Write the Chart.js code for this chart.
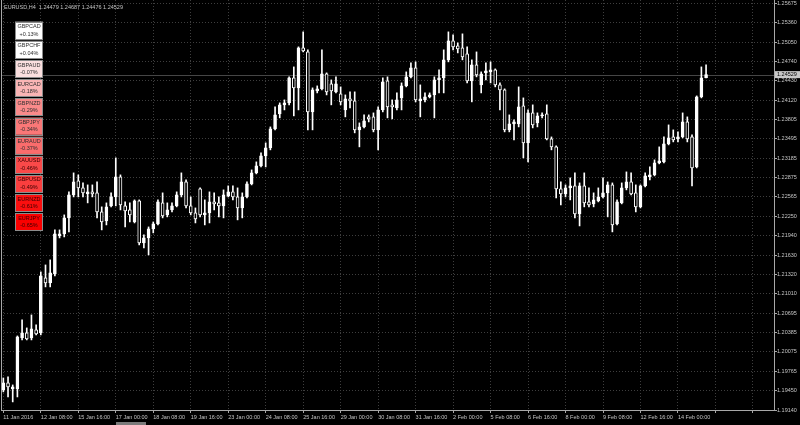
<!DOCTYPE html>
<html>
<head>
<meta charset="utf-8">
<script src="https://cdn.jsdelivr.net/npm/chart.js@4.4.1/dist/chart.umd.min.js"></script>
<style>
  html, body { margin: 0; padding: 0; background: #000; }
  #wrap { position: relative; width: 800px; height: 425px; }
</style>
</head>
<body>
<div id="wrap"><canvas id="chart" width="800" height="425"></canvas></div>
<script>
// EURUSD H4 candles
const opens = [
  1.19463, 1.19575, 1.19479, 1.19479, 1.20298, 1.20379, 1.20298, 1.20427, 1.20379, 1.21263,
  1.21182, 1.21327, 1.21938, 1.21970, 1.22227, 1.22596, 1.22821, 1.22709, 1.22612, 1.22645,
  1.22629, 1.22323, 1.22179, 1.22420, 1.22564, 1.22886, 1.22420, 1.22355, 1.22162, 1.22500,
  1.21825, 1.21905, 1.22050, 1.22130, 1.22468, 1.22275, 1.22355, 1.22420, 1.22596, 1.22805,
  1.22420, 1.22307, 1.22693, 1.22275, 1.22307, 1.22484, 1.22468, 1.22420, 1.22580, 1.22645,
  1.22564, 1.22387, 1.22564, 1.22773, 1.22950, 1.23062, 1.23223, 1.23352, 1.23657, 1.23898,
  1.24043, 1.24075, 1.24477, 1.24316, 1.24959, 1.24894, 1.23930, 1.24268, 1.24300, 1.24541,
  1.24380, 1.24252, 1.24219, 1.23962, 1.24139, 1.24107, 1.23641, 1.23689, 1.23850, 1.23850,
  1.23641, 1.23962, 1.24428, 1.24043, 1.23994, 1.24155, 1.24348, 1.24493, 1.24637, 1.24107,
  1.24123, 1.24171, 1.24203, 1.24444, 1.24477, 1.24766, 1.25071, 1.24991, 1.24959, 1.24862,
  1.24428, 1.24685, 1.24364, 1.24557, 1.24573, 1.24605, 1.24364, 1.24284, 1.23641, 1.23737,
  1.23737, 1.24027, 1.23432, 1.23914, 1.23753, 1.23866, 1.23898, 1.23496, 1.23368, 1.22693,
  1.22612, 1.22709, 1.22741, 1.22291, 1.22741, 1.22484, 1.22452, 1.22500, 1.22564, 1.22629,
  1.22757, 1.22130, 1.22468, 1.22709, 1.22805, 1.22629, 1.22404, 1.22741, 1.22886, 1.22918,
  1.23111, 1.23127, 1.23416, 1.23528, 1.23496, 1.23528, 1.23769, 1.23528, 1.23046, 1.24171,
  1.24479
];
const highs = [
  1.19655, 1.19672, 1.19543, 1.20330, 1.20588, 1.20459, 1.20668, 1.20507, 1.21359, 1.21471,
  1.21552, 1.22034, 1.22034, 1.22275, 1.22645, 1.22950, 1.22918, 1.22789, 1.22757, 1.22757,
  1.22805, 1.22404, 1.22468, 1.22629, 1.23191, 1.22918, 1.22484, 1.22468, 1.22516, 1.22516,
  1.21954, 1.22082, 1.22162, 1.22516, 1.22629, 1.22468, 1.22468, 1.22645, 1.22950, 1.22837,
  1.22564, 1.22387, 1.22709, 1.22516, 1.22645, 1.22629, 1.22564, 1.22677, 1.22741, 1.22741,
  1.22709, 1.22629, 1.22805, 1.22998, 1.23127, 1.23271, 1.23432, 1.23689, 1.24011, 1.24075,
  1.24123, 1.24493, 1.24653, 1.24975, 1.25216, 1.24927, 1.24316, 1.24348, 1.24927, 1.24557,
  1.24444, 1.24493, 1.24332, 1.24203, 1.24252, 1.24252, 1.23753, 1.23882, 1.23882, 1.23914,
  1.24011, 1.24477, 1.24493, 1.24123, 1.24235, 1.24396, 1.24573, 1.24718, 1.24734, 1.24364,
  1.24235, 1.24235, 1.24493, 1.24605, 1.24927, 1.25216, 1.25168, 1.25039, 1.25184, 1.24975,
  1.24766, 1.24894, 1.24573, 1.24718, 1.24734, 1.24621, 1.24396, 1.24300, 1.23882, 1.23802,
  1.24332, 1.24155, 1.23962, 1.24043, 1.23914, 1.23914, 1.24043, 1.23528, 1.23384, 1.22805,
  1.22757, 1.22870, 1.22950, 1.22789, 1.22950, 1.22709, 1.22629, 1.22709, 1.22870, 1.22805,
  1.22789, 1.22516, 1.22789, 1.22966, 1.22950, 1.22757, 1.22757, 1.22950, 1.23046, 1.23159,
  1.23368, 1.23528, 1.23721, 1.23641, 1.23609, 1.23914, 1.23850, 1.23561, 1.24187, 1.24653,
  1.24687
];
const lows = [
  1.19431, 1.19350, 1.19270, 1.19350, 1.20266, 1.20266, 1.20266, 1.20347, 1.20347, 1.21118,
  1.21118, 1.21295, 1.21905, 1.21921, 1.22002, 1.22564, 1.22564, 1.22564, 1.22468, 1.22564,
  1.22227, 1.22034, 1.22114, 1.22404, 1.22420, 1.22355, 1.22082, 1.22162, 1.22146, 1.21793,
  1.21745, 1.21632, 1.21986, 1.22114, 1.22227, 1.22243, 1.22323, 1.22404, 1.22564, 1.22387,
  1.22275, 1.22146, 1.22243, 1.22114, 1.22146, 1.22355, 1.22243, 1.22227, 1.22564, 1.22516,
  1.22195, 1.22227, 1.22548, 1.22757, 1.22934, 1.23046, 1.23046, 1.23320, 1.23641, 1.23834,
  1.23962, 1.24043, 1.23866, 1.23962, 1.24894, 1.23641, 1.23641, 1.24235, 1.24284, 1.24203,
  1.24043, 1.24235, 1.24043, 1.23850, 1.23994, 1.23593, 1.23368, 1.23673, 1.23769, 1.23609,
  1.23320, 1.23930, 1.23834, 1.23818, 1.23962, 1.23962, 1.24332, 1.24477, 1.24091, 1.23850,
  1.24091, 1.24155, 1.23834, 1.24235, 1.24235, 1.24734, 1.24927, 1.24878, 1.24766, 1.24396,
  1.24091, 1.24493, 1.24235, 1.24444, 1.24396, 1.24332, 1.23962, 1.23609, 1.23609, 1.23480,
  1.23689, 1.23191, 1.23127, 1.23673, 1.23689, 1.23834, 1.23480, 1.23320, 1.22548, 1.22436,
  1.22564, 1.22516, 1.22227, 1.22098, 1.22404, 1.22404, 1.22404, 1.22484, 1.22548, 1.22243,
  1.22002, 1.22114, 1.22452, 1.22677, 1.22596, 1.22323, 1.22387, 1.22725, 1.22837, 1.22902,
  1.23095, 1.23111, 1.23400, 1.23448, 1.23448, 1.23512, 1.23448, 1.22741, 1.23030, 1.24155,
  1.24476
];
const closes = [
  1.19575, 1.19511, 1.19511, 1.20314, 1.20379, 1.20282, 1.20443, 1.20363, 1.21295, 1.21182,
  1.21343, 1.21970, 1.21970, 1.22227, 1.22596, 1.22805, 1.22709, 1.22629, 1.22645, 1.22612,
  1.22323, 1.22162, 1.22404, 1.22564, 1.22886, 1.22436, 1.22339, 1.22275, 1.22500, 1.21825,
  1.21905, 1.22050, 1.22130, 1.22484, 1.22259, 1.22355, 1.22420, 1.22596, 1.22805, 1.22420,
  1.22307, 1.22211, 1.22275, 1.22307, 1.22484, 1.22452, 1.22420, 1.22596, 1.22645, 1.22564,
  1.22387, 1.22564, 1.22773, 1.22950, 1.23062, 1.23223, 1.23352, 1.23657, 1.23882, 1.24043,
  1.24075, 1.24477, 1.24316, 1.24959, 1.24910, 1.23930, 1.24284, 1.24300, 1.24541, 1.24252,
  1.24268, 1.24380, 1.24091, 1.24139, 1.24107, 1.23641, 1.23689, 1.23786, 1.23818, 1.23641,
  1.23962, 1.24412, 1.24011, 1.24011, 1.24123, 1.24348, 1.24493, 1.24637, 1.24123, 1.24139,
  1.24171, 1.24203, 1.24444, 1.24477, 1.24766, 1.25071, 1.24975, 1.24943, 1.24814, 1.24428,
  1.24685, 1.24525, 1.24541, 1.24589, 1.24605, 1.24364, 1.24284, 1.23641, 1.23737, 1.23769,
  1.24011, 1.23432, 1.23914, 1.23721, 1.23866, 1.23882, 1.23496, 1.23368, 1.22693, 1.22612,
  1.22709, 1.22741, 1.22291, 1.22741, 1.22468, 1.22436, 1.22516, 1.22564, 1.22629, 1.22757,
  1.22114, 1.22484, 1.22709, 1.22805, 1.22612, 1.22404, 1.22741, 1.22902, 1.22918, 1.23111,
  1.23143, 1.23416, 1.23512, 1.23480, 1.23528, 1.23769, 1.23496, 1.23030, 1.24171, 1.24477,
  1.24529
];

// time axis: one label every 8 bars
const dateLabels = [
  '11 Jan 2016', '12 Jan 08:00', '15 Jan 16:00', '17 Jan 00:00', '18 Jan 08:00',
  '19 Jan 16:00', '23 Jan 00:00', '24 Jan 08:00', '25 Jan 16:00', '29 Jan 00:00',
  '30 Jan 08:00', '31 Jan 16:00', '2 Feb 00:00', '5 Feb 08:00', '6 Feb 16:00',
  '8 Feb 00:00', '9 Feb 08:00', '12 Feb 16:00', '14 Feb 00:00'
];
const priceTicks = [
  1.25675, 1.25360, 1.25050, 1.24740, 1.24430, 1.24120, 1.23805, 1.23495, 1.23185, 1.22875,
  1.22565, 1.22250, 1.21940, 1.21630, 1.21320, 1.21010, 1.20695, 1.20385, 1.20075, 1.19765,
  1.19450, 1.19140
];

// currency strength panel
const symbols = ['GBPCAD', 'GBPCHF', 'GBPAUD', 'EURCAD', 'GBPNZD', 'GBPJPY', 'EURAUD', 'XAUUSD', 'GBPUSD', 'EURNZD', 'EURJPY'];
const changes = [0.13, 0.04, -0.07, -0.18, -0.29, -0.34, -0.37, -0.46, -0.49, -0.61, -0.65];

const title = 'EURUSD,H4  1.24479 1.24687 1.24476 1.24529';
const bid = 1.24529;
const slotCount = 165;

const FONT = '"Liberation Sans", Arial, sans-serif';
const gridColor = '#3e3e3e';
const axisColor = '#a8a8a8';
const textColor = '#c4c4c4';

Chart.defaults.font.family = FONT;
Chart.defaults.font.size = 5.5;
Chart.defaults.color = textColor;

const slots = Array.from({ length: slotCount }, (_, i) => i);

function boxColor(v) {
  if (v >= 0) return '#ffffff';
  const t = Math.min(1, -v / 0.65);
  const g = Math.round(250 * (1 - t));
  return 'rgb(250,' + g + ',' + g + ')';
}

const overlay = {
  id: 'overlay',
  beforeDraw(chart) {
    const ctx = chart.ctx;
    ctx.save();
    ctx.fillStyle = '#000';
    ctx.fillRect(0, 0, chart.width, chart.height);
    ctx.restore();
  },
  beforeDatasetsDraw(chart) {
    const ctx = chart.ctx;
    const a = chart.chartArea;
    const y = Math.round(chart.scales.y.getPixelForValue(bid)) + 0.5;
    ctx.save();
    ctx.strokeStyle = '#464646';
    ctx.lineWidth = 1;
    ctx.beginPath();
    ctx.moveTo(a.left, y);
    ctx.lineTo(a.right, y);
    ctx.stroke();
    ctx.restore();
  },
  afterDraw(chart) {
    const ctx = chart.ctx;
    const a = chart.chartArea;
    ctx.save();

    // left frame line
    ctx.strokeStyle = axisColor;
    ctx.lineWidth = 1;
    ctx.beginPath();
    ctx.moveTo(1.5, 0);
    ctx.lineTo(1.5, a.bottom);
    ctx.stroke();

    // title
    ctx.font = '5.5px ' + FONT;
    ctx.fillStyle = textColor;
    ctx.textBaseline = 'middle';
    ctx.textAlign = 'left';
    ctx.fillText(title, 4, 7);

    // price tag on the axis
    const yb = chart.scales.y.getPixelForValue(bid);
    ctx.fillStyle = '#c8c8c8';
    ctx.fillRect(a.right + 1, yb - 3.5, 26, 7);
    ctx.fillStyle = '#000';
    ctx.fillText(bid.toFixed(5), a.right + 3, yb);

    // currency boxes
    ctx.textAlign = 'center';
    symbols.forEach((s, k) => {
      const top = 21.7 + k * 19.16;
      ctx.fillStyle = boxColor(changes[k]);
      ctx.fillRect(15, top, 28, 17.3);
      ctx.strokeStyle = '#8c8c8c';
      ctx.strokeRect(15.5, Math.round(top) + 0.5, 27, 17);
      ctx.fillStyle = changes[k] < -0.4 ? '#3a0000' : '#303030';
      const pct = (changes[k] > 0 ? '+' : '') + changes[k].toFixed(2) + '%';
      ctx.fillText(s, 29, top + 5);
      ctx.fillText(pct, 29, top + 12.3);
    });

    // scroll marker under the time axis
    ctx.fillStyle = '#7a7a7a';
    ctx.fillRect(116, 422, 30, 3);
    ctx.restore();
  }
};

const chart = new Chart(document.getElementById('chart'), {
  type: 'bar',
  data: {
    labels: slots,
    datasets: [
      {
        label: 'body',
        data: opens.map((o, i) => [o, closes[i]]),
        backgroundColor: opens.map((o, i) => closes[i] >= o ? '#ffffff' : '#000000'),
        borderColor: '#ffffff',
        borderWidth: 1,
        borderSkipped: false,
        barThickness: 3,
        minBarLength: 1,
        grouped: false,
        order: 0
      },
      {
        label: 'wick',
        data: lows.map((l, i) => [l, highs[i]]),
        backgroundColor: '#ffffff',
        borderWidth: 0,
        barThickness: 1,
        grouped: false,
        order: 1
      }
    ]
  },
  options: {
    responsive: false,
    animation: false,
    events: [],
    layout: { padding: { left: 1, top: 0, right: 0, bottom: 0 } },
    plugins: {
      legend: { display: false },
      tooltip: { enabled: false },
      title: { display: false }
    },
    scales: {
      x: {
        type: 'category',
        offset: true,
        grid: {
          offset: false,
          color: c => (c.index % 8 === 0 ? gridColor : 'transparent'),
          tickColor: c => (c.index % 8 === 0 ? axisColor : 'transparent'),
          tickLength: 3,
          lineWidth: 1
        },
        border: { display: true, color: axisColor, dash: [1, 2] },
        ticks: {
          autoSkip: false,
          maxRotation: 0,
          minRotation: 0,
          align: 'start',
          padding: 1,
          color: textColor,
          font: { size: 5.5 },
          callback: (v, i) => (i % 8 === 0 && i / 8 < dateLabels.length ? dateLabels[i / 8] : '')
        },
        afterFit: s => { s.height = 15; s.paddingLeft = 0; s.paddingRight = 0; }
      },
      y: {
        position: 'right',
        min: 1.19140,
        max: 1.25728,
        grid: {
          color: gridColor,
          tickColor: axisColor,
          tickLength: 3
        },
        border: { display: true, color: axisColor, dash: [1, 2] },
        afterBuildTicks: s => { s.ticks = priceTicks.map(v => ({ value: v })); },
        ticks: {
          padding: 0,
          color: textColor,
          font: { size: 5.5 },
          callback: v => Number(v).toFixed(5)
        },
        afterFit: s => { s.width = 26; s.paddingTop = 0; s.paddingBottom = 0; }
      }
    }
  },
  plugins: [overlay]
});
</script>
</body>
</html>
